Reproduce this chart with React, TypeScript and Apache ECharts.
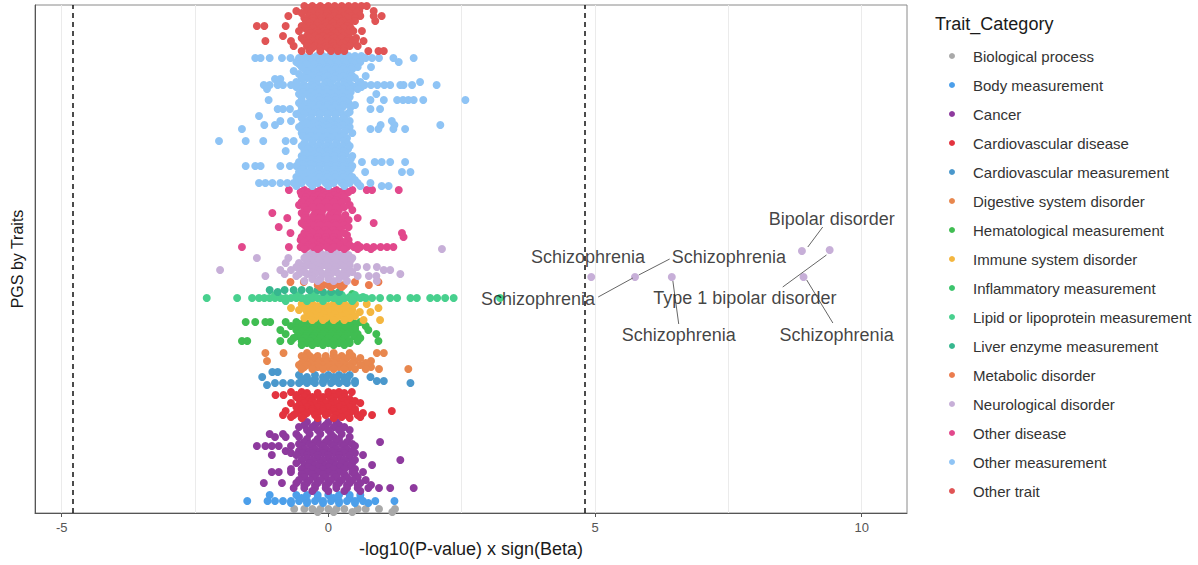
import React, { useEffect, useRef } from "react";
import * as echarts from "echarts";

const categories = [
  "Biological process",
  "Body measurement",
  "Cancer",
  "Cardiovascular disease",
  "Cardiovascular measurement",
  "Digestive system disorder",
  "Hematological measurement",
  "Immune system disorder",
  "Inflammatory measurement",
  "Lipid or lipoprotein measurement",
  "Liver enzyme measurement",
  "Metabolic disorder",
  "Neurological disorder",
  "Other disease",
  "Other measurement",
  "Other trait",
];

const colors = [
  "#A9A9A9", "#4C9FEA", "#8E3A9E", "#E3333F", "#4A98CC", "#E8874E", "#40BD52", "#F4B63F",
  "#3CC46C", "#48D08E", "#37B78F", "#EB7C4E", "#C7AFD8", "#E2488C", "#8FC4F5", "#E05455",
];

// Each row: [trait rank, ...PGS values (-log10(P) x sign(Beta))]
const biologicalProcess = [
  [4, -0.64, -0.45, -0.3, -0.15, 0, 0.15, 0.3, 0.55, 0.7, 0.95, 1.25],
  [1, -0.2, 0.1, 0.45, 1.2],
];
const bodyMeasurement = [
  [18, -1.1, -0.6, -0.4, -0.2, 0, 0.2, 0.4, 0.6],
  [15, -0.5, -0.2, 0.1, 0.4, 0.6],
  [12, -1.52, -1.14, -1.0, -0.85, -0.7, -0.55, -0.4, -0.25, -0.1, 0.05, 0.2, 0.35, 0.5, 0.65, 0.88, 1.24],
  [10, -0.7, -0.4, -0.1, 0.2, 0.5, 0.75],
];
const cancer = [
  [91, -0.4, -0.2, 0, 0.15],
  [88, -0.45, -0.25, -0.05, 0.2],
  [86, -0.55, -0.3, -0.1, 0.1, 0.3],
  [83, -0.4, -0.2, 0, 0.2, 0.4],
  [79, -1.1, -0.85, -0.6, -0.35, -0.15, 0.05, 0.25],
  [76, -1.0, -0.8, -0.55, 0.1, 0.4],
  [74, -0.4, -0.2, 0, 0.2],
  [71, -0.45, -0.25, -0.05, 0.15, 0.35, 0.97],
  [69, -0.55, -0.35, -0.15, 0.05, 0.25, 0.45],
  [67, -1.34, -1.18, -1.06, -0.93, -0.7, -0.5, -0.3, -0.1, 0.1, 0.3, 0.5],
  [64, -0.45, -0.25, -0.05, 0.15, 0.35],
  [62, -0.8, -0.55, -0.35, -0.15, 0.05, 0.25, 0.45],
  [60, -0.7, -0.5, -0.3, -0.1, 0.1, 0.3, 0.5],
  [58, -1.06, -0.6, -0.4, -0.2, 0, 0.2, 0.4, 0.65],
  [55, -0.4, -0.2, 0, 0.2, 0.4],
  [53, -0.5, -0.3, -0.1, 0.1, 0.3, 0.5, 1.35],
  [50, -0.6, -0.35, -0.15, 0.05, 0.25, 0.45],
  [48, -0.45, -0.25, -0.05, 0.15, 0.35, 0.82],
  [46, -0.38, -0.18, 0.02, 0.22, 0.42],
  [44, -0.7, -0.5, -0.3, -0.1, 0.1, 0.3, 0.5],
  [41, -1.06, -0.93, -0.7, -0.4, -0.2, 0, 0.2, 0.45, 0.65],
  [39, -0.5, -0.3, -0.1, 0.1, 0.3, 0.5],
  [36, -0.45, -0.25, -0.05, 0.15, 0.35, 0.55],
  [33, -0.55, -0.35, -0.15, 0.05, 0.25, 0.45, 0.7],
  [30, -1.21, -0.87, -0.6, -0.4, -0.2, 0, 0.2, 0.4, 0.6],
  [28, -0.45, -0.25, -0.05, 0.15, 0.35, 0.55, 0.8],
  [25, -0.65, -0.45, -0.25, -0.05, 0.15, 0.35, 0.55, 0.75, 0.95, 1.16, 1.6],
  [22, -0.3, 0, 0.3, 0.6],
];
const cardioDisease = [
  [121, -0.7, -0.5, 0.0, 0.2, 0.44],
  [120, -0.4, -0.2, 0.1, 0.3],
  [118, -0.99, -0.84, -0.6, -0.4, -0.2, 0, 0.2],
  [116, -0.6, -0.45, -0.3, -0.1, 0.1, 0.3],
  [114, -0.55, -0.35, -0.15, 0.05, 0.25, 0.4],
  [112, -0.5, -0.3, -0.1, 0.1, 0.3, 0.5],
  [110, -0.7, -0.45, -0.25, -0.05, 0.15, 0.35, 0.6],
  [108, -0.55, -0.35, -0.15, 0.05, 0.25, 0.45],
  [106, -0.6, -0.4, -0.2, 0, 0.2, 0.4],
  [104, -0.5, -0.3, -0.1, 0.1, 0.3, 0.5],
  [102, -0.8, -0.5, -0.3, -0.1, 0.1, 0.3, 0.5, 1.19],
  [100, -0.6, -0.4, -0.2, 0, 0.2, 0.4, 0.65],
  [98, -0.85, -0.65, -0.45, -0.25, -0.05, 0.15, 0.35, 0.55, 0.82],
  [96, -0.7, 0.25, 0.6],
  [95, -0.5, -0.2, 0.1, 0.4],
];
const cardioMeasurement = [
  [141, -1.05, -0.95],
  [138, -0.55, -0.25, 0, 0.2, 0.4],
  [136, -1.24, -0.4, -0.1, 0.1, 0.3, 0.79],
  [134, -0.45, -0.25, -0.05, 0.15, 0.35],
  [132, -0.5, -0.3, -0.1, 0.1, 0.3, 0.5, 0.91, 1.04],
  [130, -1.0, -0.85, -0.7, -0.55, -0.4, -0.25, -0.1, 0.05, 0.2, 0.35, 0.5, 1.54],
  [128, -1.15],
];
const digestive = [
  [160, -1.18, -0.84, -0.4, 0.1, 0.4, 0.91, 1.04],
  [157, -0.5, -0.35, -0.2, -0.05, 0.1, 0.25, 0.45],
  [155, -0.45, -0.25, -0.05, 0.15, 0.35, 0.6],
  [152, -1.15, -0.45, -0.3, -0.15, 0, 0.15, 0.3, 0.5, 0.8],
  [150, -0.5, -0.35, -0.2, -0.05, 0.1, 0.25, 0.45, 0.7],
  [148, -0.55, -0.4, -0.25, -0.1, 0.05, 0.2, 0.35, 0.6],
  [146, -0.45, -0.2, 0, 0.2, 0.4, 0.8],
  [144, -0.5, -0.3, -0.1, 0.1, 0.3, 0.5, 0.7, 0.95, 1.5],
];
const hematological = [
  [191, -1.55, -1.37, -1.18, -1.09, -0.8, -0.6, -0.45, -0.3, -0.15, 0, 0.15, 0.3, 0.45, 0.6],
  [189, -0.55, -0.38, -0.22, -0.07, 0.08, 0.22, 0.38, 0.52],
  [187, -0.7, -0.5, -0.35, -0.2, -0.05, 0.1, 0.25, 0.4, 0.7],
  [185, -0.6, -0.42, -0.27, -0.12, 0.03, 0.18, 0.33, 0.5],
  [183, -0.9, -0.6, -0.45, -0.3, -0.15, 0, 0.15, 0.3, 0.5, 0.75],
  [181, -0.52, -0.37, -0.22, -0.07, 0.08, 0.23, 0.4],
  [179, -0.8, -0.55, -0.4, -0.25, -0.1, 0.05, 0.2, 0.35, 0.55, 0.9],
  [177, -0.58, -0.42, -0.27, -0.12, 0.03, 0.18, 0.33, 0.48],
  [175, -0.65, -0.45, -0.3, -0.15, 0, 0.15, 0.3, 0.6],
  [172, -1.62, -1.52, -0.9, -0.7, -0.5, -0.35, -0.2, -0.05, 0.1, 0.25, 0.4, 0.55, 0.94],
  [170, -0.4, -0.2, 0, 0.2, 0.4],
  [168, -0.5, -0.3, -0.1, 0.1, 0.3],
];
const immune = [
  [209, -0.5, -0.3, -0.1, 0.1, 0.3, 0.5, 0.72],
  [207, -0.4, -0.2, 0, 0.2, 0.4],
  [205, -0.7, -0.45, -0.25, -0.05, 0.15, 0.35, 0.94],
  [203, -0.55, -0.35, -0.15, 0.05, 0.25, 0.45],
  [201, -0.4, -0.2, 0, 0.2, 0.4, 0.59, 0.79],
  [199, -0.28, -0.08, 0.12, 0.32],
  [197, -0.35, -0.15, 0.05, 0.25, 0.5],
  [195, -0.45, -0.25, -0.05, 0.15, 0.4],
  [193, -0.3, -0.1, 0.1, 0.3, 0.66, 0.97],
];
const inflammatory = [
  [219, -0.3, 0.1, 0.45],
];
const lipid = [
  [218, -1.0, -0.6, -0.3, 0, 0.25, 0.5],
  [216, -0.55, -0.25, 0.15, 0.4, 0.65],
  [215, -2.28, -1.71, -1.43, -1.3, -1.2, -1.1, -1.0, -0.9, -0.8, -0.7, -0.6, -0.5, -0.4, -0.3, -0.2, -0.1, 0, 0.1, 0.2, 0.3, 0.4, 0.5, 0.6, 0.7, 0.82, 0.97, 1.16, 1.29, 1.54, 1.66, 1.91, 2.04, 2.19, 2.35, 3.22],
  [212, -0.8, -0.4, -0.1, 0.2, 0.45],
];
const liverEnzyme = [
  [223, -1.1, -0.82, -0.65, -0.5, -0.35, -0.2],
  [221, -0.95, -0.1, 0.05, 0.2],
];
const metabolic = [
  [231, -0.71, -0.46, 0.5, 0.94],
  [228, -0.2, -0.1, 0, 0.1, 0.2, 0.29, 0.76],
  [226, -0.15, 0.05, 0.25],
];
const neurological = [
  [264, 2.13],
  [263, 9.4],
  [262, 8.88],
  [260, -0.3, -0.15, 0, 0.15, 0.3],
  [258, -0.4, -0.25, -0.1, 0.05, 0.2, 0.38],
  [255, -1.34, -0.75, -0.45, -0.3, -0.15, 0, 0.15, 0.3, 0.45],
  [253, -0.35, -0.2, -0.05, 0.1, 0.25, 0.42],
  [250, -0.8, -0.55, -0.4, -0.25, -0.1, 0.05, 0.2, 0.35],
  [248, -0.52, -0.37, -0.22, -0.07, 0.08, 0.22, 0.4],
  [246, -0.6, -0.45, -0.3, -0.15, 0, 0.15, 0.3, 0.54, 0.72, 0.91],
  [243, -2.03, -0.9, -0.7, -0.5, -0.2, 0.1, 0.4, 1.04, 1.16],
  [241, -0.45, -0.3, -0.15, 0, 0.15, 0.3, 0.45],
  [239, -0.82, -0.55, -0.4, -0.25, -0.1, 0.05, 0.2, 0.35, 1.35],
  [237, -1.18, -0.6, -0.3, 0, 0.3, 0.55, 0.76, 0.9],
  [236, 4.93, 5.75, 6.44, 8.91],
  [234, -0.3, -0.15, 0, 0.2],
  [232, -0.45, -0.2, 0.1, 0.35, 0.91],
];
const otherDisease = [
  [323, -0.74, -0.45, -0.3, -0.15, 0, 0.15, 0.3, 0.45, 0.72, 0.82, 1.32],
  [321, -0.52, -0.37, -0.22, -0.07, 0.08, 0.22, 0.38],
  [318, -0.5, -0.35, -0.2, -0.05, 0.1, 0.25],
  [316, -0.42, -0.27, -0.12, 0.02, 0.18, 0.3],
  [313, -0.45, -0.3, -0.15, 0, 0.15, 0.35],
  [311, -0.5, -0.35, -0.2, -0.05, 0.1, 0.25],
  [308, -0.55, -0.4, -0.25, -0.1, 0.05, 0.2, 0.4],
  [306, -0.45, -0.3, -0.15, 0, 0.15, 0.3],
  [303, -0.4, -0.25, -0.1, 0.05, 0.2, 0.45],
  [300, -1.05, -0.5, -0.2, 0.1],
  [298, -0.42, -0.27, -0.12, 0.03, 0.18, 0.32],
  [295, -0.77, -0.45, -0.3, -0.15, 0, 0.15, 0.3, 0.55],
  [293, -0.4, -0.25, -0.1, 0.05, 0.2, 0.38],
  [290, -0.5, -0.35, -0.2, -0.05, 0.1, 0.25, 0.85],
  [288, -0.45, -0.3, -0.15, 0, 0.15, 0.3],
  [286, -0.93, -0.4, -0.25, -0.1, 0.05, 0.2, 0.38],
  [283, -0.38, -0.22, -0.07, 0.08, 0.22],
  [280, -0.71, -0.45, -0.3, -0.15, 0, 0.15, 0.3, 1.38],
  [278, -0.4, -0.25, -0.1, 0.05, 0.2, 0.35],
  [276, -0.5, -0.35, -0.2, -0.05, 0.1, 1.41],
  [273, -0.52, -0.37, -0.22, -0.07, 0.08, 0.22, 0.38],
  [271, -0.45, -0.3, -0.15, 0, 0.15, 0.3],
  [268, -0.38, -0.22, -0.08, 0.07, 0.22, 0.4, 0.55],
  [266, -1.62, -0.74, -0.52, -0.4, -0.28, -0.15, -0.02, 0.1, 0.22, 0.35, 0.48, 0.6, 0.72, 0.85, 0.98, 1.1, 1.22],
  [264, -0.45, -0.2, 0.05, 0.3, 0.55, 0.8],
];
const otherMeasurement = [
  [457, -0.48, -0.35, -0.22, -0.1, 0.02, 0.14, 0.26, 0.38, 0.5, 0.62],
  [455, -1.37, -1.27, -1.1, -0.87, -0.71, -0.55, -0.42, -0.3, -0.18, -0.05, 0.08, 0.2, 0.32, 0.45, 0.58, 0.7, 0.82, 0.95, 1.22, 1.6],
  [453, -0.52, -0.38, -0.22, -0.08, 0.08, 0.22, 0.38, 0.52],
  [451, -0.6, -0.45, -0.3, -0.15, 0, 0.15, 0.3, 0.45, 0.6, 1.32],
  [449, -0.55, -0.42, -0.27, -0.12, 0.03, 0.18, 0.33, 0.48],
  [446, -0.5, -0.35, -0.2, -0.05, 0.1, 0.25, 0.4, 0.55, 0.8],
  [444, -0.45, -0.3, -0.15, 0, 0.15, 0.3, 0.45],
  [442, -0.65, -0.4, -0.25, -0.1, 0.05, 0.2, 0.35],
  [439, -0.55, -0.38, -0.22, -0.07, 0.08, 0.24, 0.4],
  [437, -0.45, -0.3, -0.15, 0, 0.15, 0.3, 0.45, 0.7],
  [435, -0.4, -0.25, -0.1, 0.05, 0.2, 0.35, 0.5],
  [434, -1.0, -0.9, -0.5, -0.2, 0.1, 0.4],
  [431, -0.6, -0.3, 0, 0.3, 0.6, 1.72],
  [428, -1.21, -1.1, -0.95, -0.85, -0.7, -0.58, -0.45, -0.32, -0.2, -0.08, 0.05, 0.18, 0.3, 0.42, 0.55, 0.68, 0.8, 0.92, 1.05, 1.16, 1.35, 1.41, 1.57, 2.03],
  [426, -0.6, -0.42, -0.27, -0.12, 0.03, 0.18, 0.33, 0.48, 0.62],
  [424, -1.15, -0.5, -0.35, -0.2, -0.05, 0.1, 0.25, 0.4, 0.55],
  [421, -0.47, -0.32, -0.17, -0.02, 0.12, 0.27, 0.42],
  [419, -0.55, -0.4, -0.25, -0.1, 0.05, 0.2, 0.35, 0.9],
  [416, -0.5, -0.35, -0.2, -0.05, 0.1, 0.25, 0.4],
  [413, -1.12, -0.5, -0.3, -0.15, 0, 0.15, 0.3, 0.79, 1.04, 1.29, 1.4, 1.5, 1.6, 1.78, 2.57],
  [410, -0.55, -0.38, -0.22, -0.07, 0.08, 0.22, 0.38],
  [408, -0.45, -0.3, -0.15, 0, 0.15, 0.3, 0.5],
  [406, -0.5, -0.35, -0.18, -0.02, 0.12, 0.27, 0.42],
  [404, -0.95, -0.85, -0.72, -0.4, -0.25, -0.1, 0.05, 0.2, 0.79, 0.97],
  [401, -0.52, -0.37, -0.22, -0.07, 0.08, 0.23, 0.4],
  [399, -0.6, -0.45, -0.3, -0.15, 0, 0.15, 0.35],
  [397, -1.3],
  [395, -0.5, -0.33, -0.17, -0.02, 0.13, 0.28],
  [392, -0.9, -0.7, -0.4, -0.25, -0.1, 0.05, 0.2, 0.4, 1.19],
  [390, -0.42, -0.27, -0.12, 0.03, 0.18, 0.33],
  [388, -1.2, -1.0, -0.5, -0.35, -0.2, -0.05, 0.1, 0.25, 0.98, 1.24, 2.1],
  [386, -0.55, -0.3, -0.12, 0.02, 0.17, 0.4],
  [384, -1.62, -0.45, -0.2, 0.1, 0.35, 0.79, 0.94, 1.22, 1.44],
  [382, -0.42, -0.27, -0.12, 0.02, 0.17, 0.32],
  [380, -0.5, -0.35, -0.2, -0.05, 0.1, 0.25, 0.45],
  [377, -0.48, -0.33, -0.17, -0.02, 0.12, 0.28],
  [375, -0.4, -0.25, -0.1, 0.05, 0.2, 0.35],
  [372, -2.05, -1.55, -1.22, -0.8, -0.65, -0.3, 0, 0.3],
  [370, -0.45, -0.3, -0.15, 0, 0.15, 0.35],
  [367, -0.5, -0.35, -0.2, -0.05, 0.1, 0.25, 0.4],
  [364, -0.38, -0.22, -0.07, 0.07, 0.22, 0.37],
  [362, -0.8, -0.45, -0.3, -0.15, 0, 0.15, 0.3],
  [359, -0.42, -0.27, -0.12, 0.02, 0.17, 0.32],
  [357, -0.5, -0.35, -0.2, -0.05, 0.1, 0.25, 0.45],
  [354, -0.47, -0.32, -0.17, -0.02, 0.12, 0.28, 0.42],
  [351, -0.55, -0.4, -0.25, -0.1, 0.05, 0.2, 0.35, 0.63, 0.87, 1.0, 1.16, 1.44],
  [349, -0.48, -0.33, -0.18, -0.03, 0.12, 0.27, 0.4],
  [347, -1.55, -1.37, -1.27, -0.9, -0.72, -0.6, -0.45, -0.3, -0.15, 0, 0.15, 0.3, 0.45],
  [344, -0.48, -0.32, -0.17, -0.02, 0.12, 0.27, 0.42],
  [341, -0.55, -0.4, -0.25, -0.1, 0.05, 0.2, 0.35, 0.69, 1.38, 1.54],
  [339, -0.5, -0.35, -0.2, -0.05, 0.1, 0.25, 0.38],
  [336, -0.6, -0.45, -0.3, -0.15, 0, 0.15, 0.3, 0.45],
  [333, -0.55, -0.4, -0.25, -0.1, 0.05, 0.2, 0.35, 0.5],
  [330, -1.3, -1.18, -1.05, -0.9, -0.77, -0.65, -0.5, -0.35, -0.2, -0.05, 0.1, 0.25, 0.4, 0.55, 0.79],
  [327, -0.6, -0.3, 0, 0.3, 0.6, 1.0, 1.13],
];
const otherTrait = [
  [507, -0.45, -0.3, -0.15, 0, 0.12, 0.25, 0.38, 0.5, 0.62, 0.72],
  [505, -0.38, -0.22, -0.07, 0.06, 0.18, 0.31, 0.44],
  [502, -0.6, -0.4, -0.25, -0.1, 0.05, 0.2, 0.32, 0.45, 0.58, 0.85],
  [500, -0.5, -0.32, -0.17, -0.02, 0.13, 0.26, 0.38, 0.52],
  [497, -0.75, -0.35, -0.2, -0.05, 0.1, 0.3, 0.42, 0.6, 0.85, 1.0],
  [495, -0.45, -0.28, -0.12, 0.03, 0.2, 0.36, 0.5],
  [492, -0.42, -0.28, -0.12, 0.02, 0.15, 0.28, 0.5, 0.88],
  [490, -0.35, -0.2, -0.05, 0.08, 0.22, 0.4],
  [487, -1.34, -1.2, -0.8, -0.5, -0.35, -0.2, -0.05, 0.1, 0.22, 0.35],
  [485, -0.44, -0.28, -0.12, 0.03, 0.16, 0.3, 0.42],
  [482, -0.55, -0.38, -0.22, -0.08, 0.08, 0.2, 0.47, 0.63],
  [480, -0.33, -0.18, -0.02, 0.12, 0.26, 0.38],
  [477, -0.85, -0.4, -0.25, -0.1, 0.05, 0.18, 0.3],
  [475, -0.5, -0.35, -0.18, -0.03, 0.1, 0.24, 0.4, 0.52],
  [472, -1.18, -0.7, -0.45, -0.3, -0.12, 0, 0.15, 0.35, 0.5, 0.66],
  [470, -0.38, -0.2, -0.06, 0.08, 0.28, 0.45],
  [467, -0.65, -0.4, -0.25, -0.05, 0.1, 0.22, 0.4, 0.55],
  [465, -0.3, -0.15, 0, 0.15, 0.3],
  [462, -0.5, -0.35, -0.15, 0.05, 0.18, 0.3, 0.75, 0.94, 1.04],
];

const categoryRows = [
  biologicalProcess, bodyMeasurement, cancer, cardioDisease, cardioMeasurement, digestive,
  hematological, immune, inflammatory, lipid, liverEnzyme, metabolic, neurological,
  otherDisease, otherMeasurement, otherTrait,
];

const thresholds = [-4.8, 4.8];
const gridValues = [-5, -2.5, 0, 2.5, 5, 7.5, 10];
const tickValues = [-5, 0, 5, 10];

// Annotations: label text, label anchor [x, rank], connector from -> to
const annotationTexts = [
  "Schizophrenia", "Schizophrenia", "Schizophrenia", "Schizophrenia",
  "Type 1 bipolar disorder", "Bipolar disorder", "Schizophrenia",
];
const annotationAnchors = [
  [3.93, 214], [7.51, 256], [4.87, 256], [6.57, 178], [7.81, 215], [9.44, 294], [9.53, 178],
];
const connectors = [
  [[5.06, 216], [5.71, 235]],
  [[6.4, 254], [5.82, 238]],
  [[6.46, 232], [6.57, 189]],
  [[8.52, 226], [9.34, 258]],
  [[9.27, 286], [8.99, 266]],
  [[8.97, 233], [9.46, 190]],
];

const FONT = "'Liberation Sans', Arial, Helvetica, sans-serif";

export default function App() {
  const ref = useRef<HTMLDivElement>(null);
  useEffect(() => {
    if (!ref.current) return;
    const chart = echarts.init(ref.current, undefined, { renderer: "svg" });

    const dataSeries = categories.map((name, i) => ({
      name,
      type: "scatter",
      z: 3,
      symbol: "circle",
      symbolSize: 8,
      itemStyle: { color: colors[i], opacity: 1 },
      emphasis: { disabled: true },
      data: categoryRows[i].flatMap((row) => row.slice(1).map((x) => [x, row[0]])),
    }));

    const option: any = {
      animation: false,
      textStyle: { fontFamily: FONT },
      title: {
        text: "Trait_Category",
        left: 930,
        top: 10,
        textStyle: { fontSize: 18, fontWeight: "normal", color: "#1a1a1a", fontFamily: FONT },
      },
      legend: {
        orient: "vertical",
        left: 944,
        top: 43,
        itemWidth: 32,
        itemHeight: 6,
        itemGap: 13,
        icon: "circle",
        data: categories,
        textStyle: { fontSize: 15, color: "#333", lineHeight: 16, fontFamily: FONT },
        selectedMode: false,
      },
      grid: {
        left: 35,
        right: 291,
        top: 5,
        bottom: 52,
        show: true,
        borderColor: "#8a8a8a",
        borderWidth: 1,
      },
      xAxis: {
        type: "value",
        min: -5.5,
        max: 10.85,
        name: "-log10(P-value) x sign(Beta)",
        nameLocation: "middle",
        nameGap: 27,
        nameTextStyle: { fontSize: 18, color: "#1a1a1a", fontFamily: FONT },
        axisLine: { show: true, onZero: false, lineStyle: { color: "#555", width: 1 } },
        axisTick: { show: true, length: 4, customValues: tickValues, lineStyle: { color: "#555" } },
        axisLabel: { customValues: tickValues, fontSize: 13, color: "#555", margin: 8, fontFamily: FONT },
        splitLine: { show: false },
      },
      yAxis: {
        type: "value",
        min: 0,
        max: 508,
        name: "PGS by Traits",
        nameLocation: "middle",
        nameGap: 10,
        nameRotate: 90,
        nameTextStyle: { fontSize: 16, color: "#1a1a1a", fontFamily: FONT },
        axisLine: { show: true, onZero: false, lineStyle: { color: "#555", width: 1 } },
        axisTick: { show: false },
        axisLabel: { show: false },
        splitLine: { show: false },
      },
      series: [
        {
          type: "scatter",
          name: "grid",
          z: 1,
          silent: true,
          data: [],
          markLine: {
            z: 1,
            silent: true,
            symbol: "none",
            animation: false,
            label: { show: false },
            lineStyle: { color: "#ebebeb", width: 1, type: "solid" },
            data: gridValues.map((v) => ({ xAxis: v })),
          },
        },
        ...dataSeries,
        {
          type: "scatter",
          name: "annotations",
          z: 5,
          silent: true,
          symbolSize: 1,
          itemStyle: { color: "rgba(0,0,0,0)" },
          label: {
            show: true,
            position: "inside",
            formatter: "{b}",
            fontSize: 18,
            color: "#111",
            fontFamily: FONT,
          },
          data: annotationTexts.map((t, i) => ({ name: t, value: annotationAnchors[i] })),
          markLine: {
            silent: true,
            symbol: "none",
            animation: false,
            label: { show: false },
            lineStyle: { color: "#666", width: 1, type: "solid" },
            data: connectors.map((c) => [{ coord: c[0] }, { coord: c[1] }]),
          },
        },
        {
          type: "scatter",
          name: "thresholds",
          z: 4,
          silent: true,
          data: [],
          markLine: {
            silent: true,
            symbol: "none",
            animation: false,
            label: { show: false },
            lineStyle: { color: "#111", width: 1.5, type: [5, 4] },
            data: thresholds.map((v) => ({ xAxis: v })),
          },
        },
      ],
    };
    chart.setOption(option);
    return () => chart.dispose();
  }, []);
  return (
    <div
      ref={ref}
      style={{ position: "fixed", left: 0, top: 0, width: 1198, height: 565, background: "#fff" }}
    />
  );
}
